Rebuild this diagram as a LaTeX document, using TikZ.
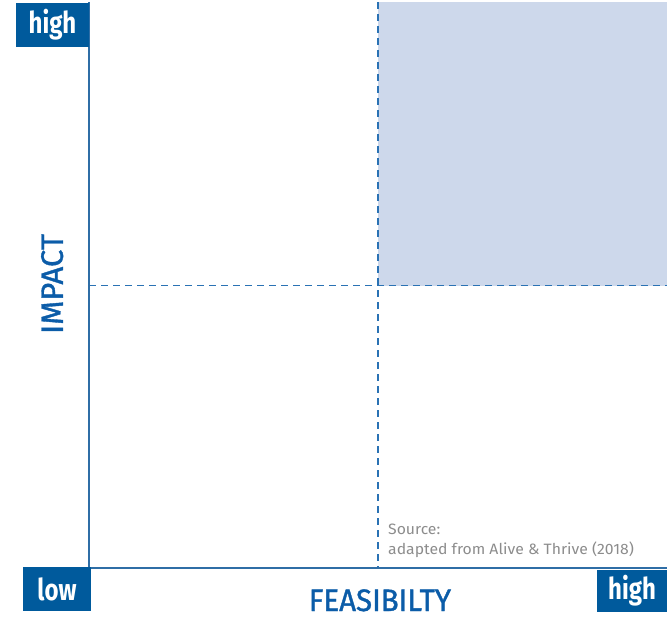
\documentclass[tikz,border=0pt]{standalone}
\usepackage{fontspec}
\setmainfont{Fira Sans}
\newfontfamily\labfont[FakeBold=1.2]{Fira Sans}
\definecolor{boxblue}{HTML}{005A9C}
\definecolor{axisblue}{HTML}{2F6EA6}
\definecolor{dashblue}{HTML}{2A72B4}
\definecolor{quadfill}{HTML}{CDD8EB}
\definecolor{srcgray}{HTML}{8C8C8C}
\definecolor{labblue}{HTML}{0B5CA8}
\begin{document}
\begin{tikzpicture}[x=1pt,y=1pt,
  tag/.style={fill=boxblue,text=white,inner sep=0pt,minimum width=73pt,minimum height=44pt,font=\fontsize{30}{30}\selectfont\bfseries},
  axisline/.style={draw=axisblue,line width=1.1pt},
  quad/.style={draw=dashblue,line width=1.2pt,dash pattern=on 7pt off 5pt},
  axlab/.style={text=labblue,inner sep=0pt,text depth=0pt,font=\labfont\fontsize{31}{31}\selectfont}]
\useasboundingbox (0,0) rectangle (667,-618);
% coordinates
\coordinate (o) at (89,-568);
\coordinate (ytop) at (89,-2);
\coordinate (xend) at (667,-568);
\coordinate (mtop) at (378,-2);
\coordinate (mbot) at (378,-568);
\coordinate (hl) at (89,-285.5);
\coordinate (hr) at (667,-285.5);
\coordinate (sh1) at (378,-2);
\coordinate (sh2) at (667,-285.5);
% shaded quadrant
\fill[quadfill] (sh1) rectangle (sh2);
% dashed dividers
\draw[quad] (mtop) -- (mbot);
\draw[quad] (hl) -- (hr);
% axes
\draw[axisline] (ytop) -- (o) -- (xend);
% tags
\node[tag] (hightop) at (52.5,-25) {\scalebox{0.8}[1]{high}};
\node[tag,minimum width=68pt] (low) at (57,-589) {\scalebox{0.8}[1]{low}};
\node[tag,minimum width=70pt,minimum height=42pt] (highright) at (632,-591) {\scalebox{0.8}[1]{high}};
% axis labels
\node[axlab,rotate=90] (impact) at (52,-284) {\scalebox{1.0}[1]{IMPACT}};
\node[axlab,anchor=base] (feas) at (380,-611) {\scalebox{0.95}[1]{FEASIBILTY}};
% source
\node[anchor=north west,text=srcgray,inner sep=0pt,align=left,font=\fontsize{15}{20}\selectfont] (src) at (388,-524)
  {\scalebox{1.05}[1]{Source:}\\\scalebox{1.05}[1]{adapted from Alive \& Thrive (2018)}};
\end{tikzpicture}
\end{document}
